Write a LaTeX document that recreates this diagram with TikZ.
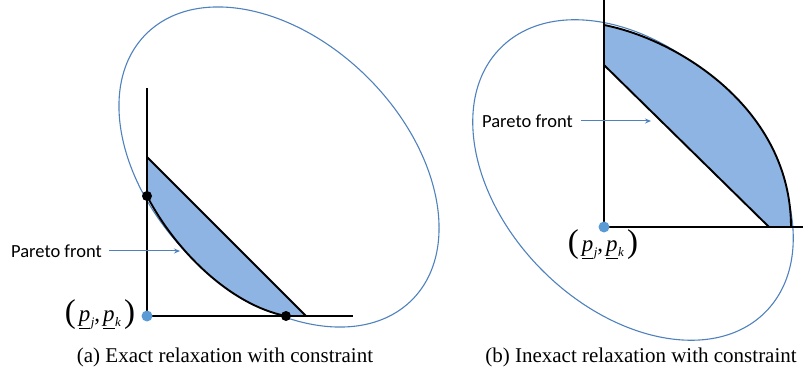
\documentclass[tikz,border=0pt]{standalone}
\usepackage{fontspec}
\setmainfont{Liberation Serif}
\newfontfamily\calib{Carlito}
\usetikzlibrary{arrows.meta}
\definecolor{ellblue}{RGB}{79,129,189}
\definecolor{regfill}{RGB}{141,180,226}
\definecolor{dotblue}{RGB}{91,155,213}
\newcommand\undp[1]{\underline{\textit{p}}\kern0.5pt\raisebox{-5pt}{\fontsize{13}{13}\selectfont\textit{#1}}}
\newcommand\bigpar[1]{\raisebox{-1pt}{\fontsize{33}{33}\selectfont #1}}
\tikzset{
  constr/.style={draw=ellblue, line width=1.1pt},
  region/.style={fill=regfill},
  outline/.style={draw=black, line width=1.9pt, line join=round},
  axisline/.style={draw=black, line width=1.3pt},
  origindot/.style={circle, fill=dotblue, inner sep=0pt, minimum size=11pt},
  blackdot/.style={circle, fill=black, inner sep=0pt, minimum size=10pt},
  pflabel/.style={font=\calib\fontsize{18.5}{20}\selectfont, inner sep=0pt},
  coordlbl/.style={font=\fontsize{23}{26}\selectfont, inner sep=0pt},
  captext/.style={font=\fontsize{21}{24}\selectfont, inner sep=0pt},
  pointer/.style={draw=ellblue, line width=1pt, -{Stealth[length=6pt,width=5pt]}},
}
\begin{document}
\begin{tikzpicture}[x=1pt,y=-1pt]
\useasboundingbox (0,0) rectangle (803,379);
% ---------- panel (a) ----------
\draw[constr, rotate around={-45:(279,167)}] (279,167) ellipse [x radius=188, y radius=126];
\fill[region] (147,157) -- (147,196) .. controls (175,250) and (230,305) .. (286,316) -- (306,316) -- cycle;
\draw[axisline] (147,88) -- (147,316) -- (353,316);
\draw[outline] (147,157) -- (306,316);
\draw[outline] (147,196) .. controls (175,250) and (230,305) .. (286,316);
\node[origindot] (oa) at (147,316) {};
\node[blackdot] (da) at (147,196) {};
\node[blackdot] (db) at (286,316) {};
\node[pflabel, anchor=west] (pfa) at (11,251) {Pareto front};
\coordinate (ta) at (180,251);
\draw[pointer] ([xshift=7pt]pfa.east) -- (ta);
\node[coordlbl] (ca) at (100,315) {\bigpar{(}\kern3pt\undp{j},\kern3pt\undp{k}\kern3pt\bigpar{)}};
\node[captext] (capa) at (225,357) {(a) Exact relaxation with constraint};
% ---------- panel (b) ----------
\draw[constr, rotate around={-45:(633,180)}] (633,180) ellipse [x radius=187, y radius=128];
\fill[region] (604,25) .. controls (680,40) and (791,110) .. (791,227) -- (769,227) -- (604,65) -- cycle;
\draw[axisline] (604,0) -- (604,227) -- (803,227);
\draw[outline] (604,25) .. controls (680,40) and (791,110) .. (791,227);
\draw[outline] (604,65) -- (769,227);
\node[origindot] (ob) at (604,227) {};
\node[pflabel, anchor=west] (pfb) at (482,121) {Pareto front};
\coordinate (tb) at (651,121);
\draw[pointer] ([xshift=8pt]pfb.east) -- (tb);
\node[coordlbl] (cb) at (603,245) {\bigpar{(}\kern3pt\undp{j},\kern3pt\undp{k}\kern3pt\bigpar{)}};
\node[captext] (capb) at (641,357) {(b) Inexact relaxation with constraint};
\end{tikzpicture}
\end{document}
